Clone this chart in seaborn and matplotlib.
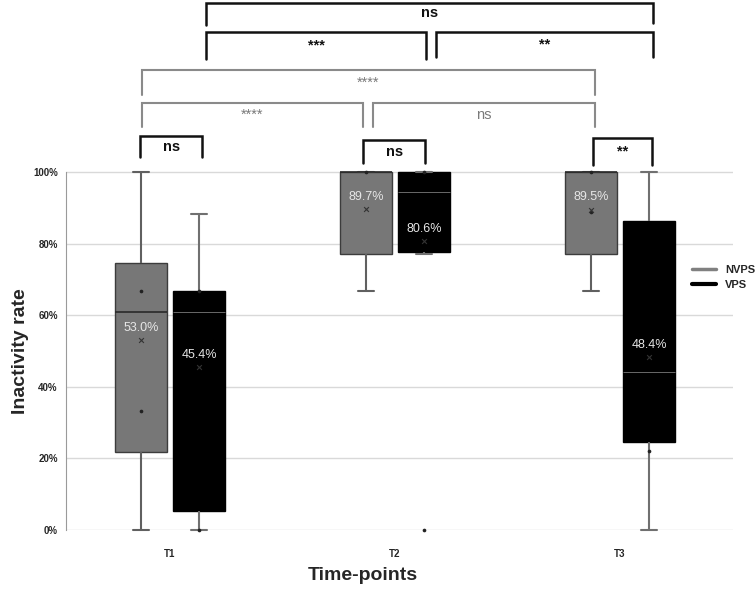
#!/usr/bin/env python3

import numpy as np
import pandas
import matplotlib.pyplot as plt
import seaborn as sns
from matplotlib.lines import Line2D
from matplotlib.ticker import PercentFormatter

sns.set_style("white")
plt.rcParams["font.family"] = ["Liberation Sans", "DejaVu Sans"]

# Five-number summaries (percent)
times = ["T1", "T2", "T3"]
groups = ["NVPS", "VPS"]

nvps_min = [0.0, 66.7, 66.7]
nvps_q1 = [21.9, 77.1, 77.1]
nvps_median = [60.8, 100.0, 100.0]
nvps_q3 = [74.7, 100.0, 100.0]
nvps_max = [100.0, 100.0, 100.0]
nvps_mean = [53.0, 89.7, 89.5]
nvps_points = [[66.7, 33.3], [100.0], [100.0, 88.9]]

vps_min = [0.0, 77.2, 0.0]
vps_q1 = [5.3, 77.6, 24.7]
vps_median = [60.8, 94.3, 44.0]
vps_q3 = [66.7, 100.0, 86.3]
vps_max = [88.2, 100.0, 100.0]
vps_mean = [45.4, 80.6, 48.4]
vps_points = [[66.7, 0.0], [100.0, 0.0], [22.2]]

# Significance brackets: x from, x to (category units), top, leg ends, label, dark?
brackets = [
    (0.16, 2.147, 147.2, 141.0, 141.5, "ns", True),
    (0.16, 1.138, 139.1, 131.6, 131.6, "***", True),
    (1.182, 2.147, 139.1, 132.2, 132.2, "**", True),
    (-0.126, 1.889, 128.4, 121.5, 121.5, "****", False),
    (-0.126, 0.859, 119.2, 112.5, 112.5, "****", False),
    (0.904, 1.889, 119.2, 112.5, 112.5, "ns", False),
    (-0.133, 0.144, 110.1, 104.1, 104.1, "ns", True),
    (0.859, 1.133, 108.9, 102.5, 102.5, "ns", True),
    (1.881, 2.141, 109.4, 102.0, 102.0, "**", True),
]

fill = {"NVPS": "#777777", "VPS": "#000000"}
width, gap = 0.516, 0.105
offset = {"NVPS": -width / 4, "VPS": width / 4}


def summary_frame():
    rows = []
    stats = {
        "NVPS": [nvps_min, nvps_q1, nvps_median, nvps_q3, nvps_max],
        "VPS": [vps_min, vps_q1, vps_median, vps_q3, vps_max],
    }
    for group, cols in stats.items():
        for i, t in enumerate(times):
            for col in cols:
                rows.append({"time": t, "group": group, "rate": col[i]})
    return pandas.DataFrame(rows)


def main():
    df = summary_frame()

    fig = plt.figure(figsize=(7.55, 5.96), dpi=100)
    ax = fig.add_axes([66 / 755, 66 / 596, 667 / 755, 530 / 596])

    sns.boxplot(
        df,
        x="time",
        y="rate",
        hue="group",
        order=times,
        hue_order=groups,
        palette=fill,
        width=width,
        gap=gap,
        whis=np.inf,
        linewidth=1,
        legend=False,
        ax=ax,
    )

    # Excel-like styling per series
    styles = {
        "NVPS": dict(edge="#3c3c3c", whisker="#606060", median="#2a2a2a", mlw=1.2),
        "VPS": dict(edge="#000000", whisker="#707070", median="#6a6a6a", mlw=0.7),
    }
    for group, cont in zip(groups, ax.containers):
        st = styles[group]
        for box in cont.boxes:
            box.set_edgecolor(st["edge"])
            box.set_clip_on(False)
        for line in list(cont.whiskers) + list(cont.caps):
            line.set_color(st["whisker"])
            line.set_linewidth(1.5)
            line.set_clip_on(False)
        for cap in cont.caps:
            xd = cap.get_xdata()
            mid = (xd[0] + xd[1]) / 2
            cap.set_xdata([mid - 0.035, mid + 0.035])
        for med in cont.medians:
            med.set_color(st["median"])
            med.set_linewidth(st["mlw"])

    # Individual points and means
    pos = np.arange(len(times))
    pts = []
    for group, plist in (("NVPS", nvps_points), ("VPS", vps_points)):
        for i, vals in enumerate(plist):
            for v in vals:
                pts.append({"x": pos[i] + offset[group], "y": v})
    pts = pandas.DataFrame(pts)
    sns.scatterplot(pts, x="x", y="y", s=7, color="#222222", linewidth=0,
                    ax=ax, clip_on=False, zorder=5)

    means = pandas.DataFrame({
        "x": np.concatenate([pos + offset["NVPS"], pos + offset["VPS"]]),
        "y": nvps_mean + vps_mean,
    })
    sns.scatterplot(means, x="x", y="y", marker="x", s=12, color="#333333",
                    linewidth=0.8, ax=ax, zorder=5)
    for x, y in zip(means["x"], means["y"]):
        ax.text(x, y + 3.4, f"{y:.1f}%", ha="center", va="center",
                fontsize=9, color="#e6e6e6", zorder=6)

    # Significance brackets
    for x1, x2, top, leg1, leg2, label, dark in brackets:
        color = "#111111" if dark else "#8a8a8a"
        lw = 1.8 if dark else 1.5
        ax.plot([x1, x1, x2, x2], [leg1, top, top, leg2], color=color, lw=lw,
                clip_on=False, solid_joinstyle="miter")
        ax.text((x1 + x2) / 2, (top + max(leg1, leg2)) / 2, label,
                ha="center", va="center", fontsize=10.5,
                fontweight="bold" if dark else "normal",
                color="#111111" if dark else "#7a7a7a")

    ax.set_xlim(-0.462, 2.502)
    ax.set_ylim(0, 148.04)
    ax.set_yticks([0, 20, 40, 60, 80, 100])
    ax.yaxis.set_major_formatter(PercentFormatter(decimals=0))
    ax.yaxis.grid(True, color="#d9d9d9", lw=1)
    ax.set_axisbelow(True)
    for side in ["top", "right", "bottom"]:
        ax.spines[side].set_visible(False)
    ax.spines["left"].set_bounds(0, 100)
    ax.spines["left"].set_color("#9a9a9a")
    ax.tick_params(axis="both", length=0, labelsize=7)
    ax.tick_params(axis="y", pad=6)
    ax.tick_params(axis="x", pad=14)
    for lab in ax.get_xticklabels() + ax.get_yticklabels():
        lab.set_fontweight("bold")

    ax.set_xlabel("Time-points", fontsize=14, fontweight="bold")
    ax.xaxis.set_label_coords((363 - 66) / 667, (530 - 567) / 530)
    ax.set_ylabel("Inactivity rate", fontsize=14, fontweight="bold")
    ax.yaxis.set_label_coords((29 - 66) / 667, (530 - 351) / 530)

    handles = [
        Line2D([], [], color="#808080", lw=2.5, label="NVPS"),
        Line2D([], [], color="#000000", lw=3, label="VPS"),
    ]
    leg = ax.legend(handles=handles, loc="upper left", frameon=False,
                    bbox_to_anchor=(686 / 755, 1 - 259 / 596),
                    bbox_transform=fig.transFigure, borderpad=0,
                    handlelength=2.2, handletextpad=0.8, labelspacing=0.45,
                    prop={"size": 8, "weight": "bold"})

    fig.savefig("out.png", dpi=100)


if __name__ == "__main__":
    main()
